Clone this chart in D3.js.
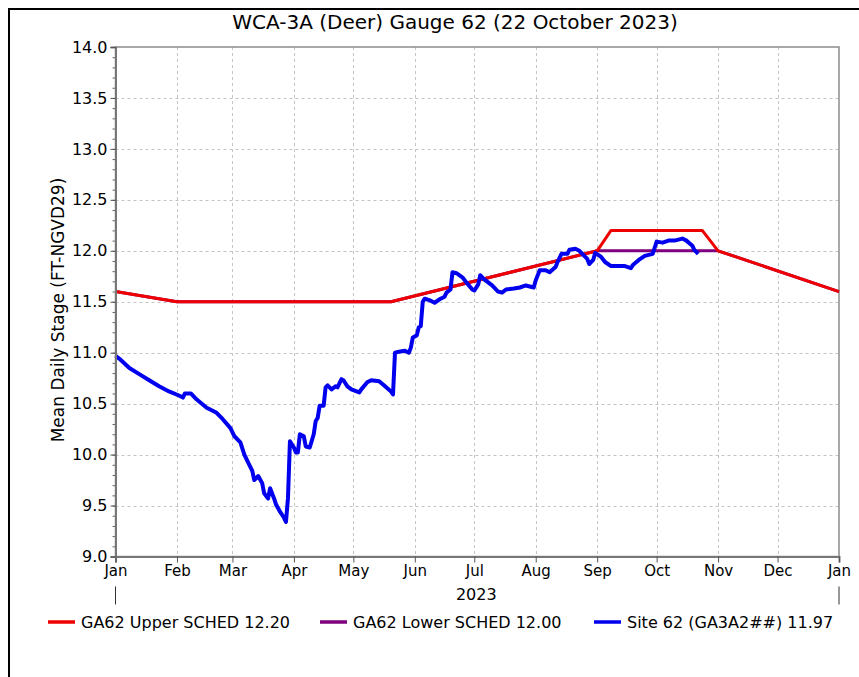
<!DOCTYPE html>
<html>
<head>
<meta charset="utf-8">
<script src="https://cdn.jsdelivr.net/npm/d3@7"></script>
<style>
  body { margin: 0; background: #fff; }
  text { font-family: "DejaVu Sans", sans-serif; fill: #000; }
</style>
</head>
<body>
<div id="chart"></div>
<script>
// Upper / lower regulation schedules (ft NGVD29)
var upperDates  = ["2023-01-01", "2023-02-01", "2023-05-20", "2023-09-01", "2023-09-08", "2023-10-24", "2023-11-01", "2024-01-01"];
var upperValues = [11.6, 11.5, 11.5, 12.0, 12.2, 12.2, 12.0, 11.6];

var lowerDates  = ["2023-01-01", "2023-02-01", "2023-05-20", "2023-09-01", "2023-11-01", "2024-01-01"];
var lowerValues = [11.6, 11.5, 11.5, 12.0, 12.0, 11.6];

// Site 62 mean daily stage
var siteDates = [
  "2023-01-01", "2023-01-03", "2023-01-08", "2023-01-13", "2023-01-18", "2023-01-23", "2023-01-28",
  "2023-02-02", "2023-02-04", "2023-02-05", "2023-02-08", "2023-02-11", "2023-02-16", "2023-02-21",
  "2023-02-24", "2023-02-28", "2023-03-02", "2023-03-05", "2023-03-07", "2023-03-09", "2023-03-11",
  "2023-03-12", "2023-03-14", "2023-03-16", "2023-03-17", "2023-03-19", "2023-03-20", "2023-03-22",
  "2023-03-23", "2023-03-25", "2023-03-27", "2023-03-28", "2023-03-29", "2023-03-30", "2023-04-01",
  "2023-04-02", "2023-04-03", "2023-04-04", "2023-04-06", "2023-04-07", "2023-04-09", "2023-04-11",
  "2023-04-12", "2023-04-13", "2023-04-14", "2023-04-16", "2023-04-17", "2023-04-18", "2023-04-20",
  "2023-04-22", "2023-04-23", "2023-04-25", "2023-04-26", "2023-04-28", "2023-04-30", "2023-05-04",
  "2023-05-05", "2023-05-08", "2023-05-10", "2023-05-14", "2023-05-17", "2023-05-20", "2023-05-21",
  "2023-05-22", "2023-05-24", "2023-05-27", "2023-05-29", "2023-05-30", "2023-05-31", "2023-06-02",
  "2023-06-03", "2023-06-04", "2023-06-05", "2023-06-06", "2023-06-09", "2023-06-11", "2023-06-14",
  "2023-06-16", "2023-06-17", "2023-06-19", "2023-06-20", "2023-06-22", "2023-06-25", "2023-06-27",
  "2023-06-30", "2023-07-01", "2023-07-03", "2023-07-04", "2023-07-06", "2023-07-10", "2023-07-13",
  "2023-07-15", "2023-07-17", "2023-07-21", "2023-07-24", "2023-07-27", "2023-07-29", "2023-07-31",
  "2023-08-01", "2023-08-03", "2023-08-06", "2023-08-08", "2023-08-11", "2023-08-12", "2023-08-14",
  "2023-08-17", "2023-08-18", "2023-08-21", "2023-08-23", "2023-08-25", "2023-08-27", "2023-08-28",
  "2023-08-30", "2023-08-31", "2023-09-03", "2023-09-05", "2023-09-08", "2023-09-10", "2023-09-13",
  "2023-09-15", "2023-09-18", "2023-09-19", "2023-09-22", "2023-09-25", "2023-09-29", "2023-09-30",
  "2023-10-01", "2023-10-04", "2023-10-07", "2023-10-10", "2023-10-14", "2023-10-16", "2023-10-19",
  "2023-10-20", "2023-10-22"
];
var siteValues = [
  10.97, 10.94, 10.85, 10.79, 10.73, 10.67, 10.62,
  10.58, 10.56, 10.60, 10.60, 10.54, 10.46, 10.41,
  10.35, 10.26, 10.18, 10.12, 10.00, 9.92, 9.84,
  9.75, 9.79, 9.72, 9.62, 9.57, 9.67, 9.57,
  9.51, 9.44, 9.38, 9.34, 9.57, 10.13, 10.07,
  10.02, 10.02, 10.20, 10.18, 10.08, 10.07, 10.20,
  10.33, 10.36, 10.48, 10.48, 10.66, 10.68, 10.64,
  10.67, 10.66, 10.74, 10.73, 10.67, 10.64, 10.61,
  10.64, 10.71, 10.73, 10.72, 10.67, 10.62, 10.59,
  11.00, 11.01, 11.02, 11.00, 11.05, 11.15, 11.17,
  11.25, 11.26, 11.50, 11.53, 11.51, 11.49, 11.53,
  11.55, 11.59, 11.62, 11.79, 11.78, 11.74, 11.69,
  11.62, 11.61, 11.67, 11.76, 11.72, 11.66, 11.60,
  11.59, 11.62, 11.63, 11.64, 11.66, 11.65, 11.64,
  11.71, 11.81, 11.81, 11.79, 11.84, 11.89, 11.97,
  11.97, 12.01, 12.02, 12.00, 11.96, 11.92, 11.87,
  11.91, 11.98, 11.94, 11.89, 11.85, 11.85, 11.85,
  11.85, 11.83, 11.86, 11.91, 11.95, 11.97, 12.03,
  12.09, 12.08, 12.10, 12.10, 12.12, 12.10, 12.05,
  12.01, 11.97
];

var yTicks = [9.0, 9.5, 10.0, 10.5, 11.0, 11.5, 12.0, 12.5, 13.0, 13.5, 14.0];
var legendNames = ["GA62 Upper SCHED 12.20", "GA62 Lower SCHED 12.00", "Site 62 (GA3A2##) 11.97"];
var colours = ["#ee0000", "#7f007f", "#0000ee"];

var width = 859, height = 677;
var margins = { top: 47, right: 20, bottom: 121, left: 115.5 };

var parseDate = d3.timeParse("%Y-%m-%d");

function toSeries(dates, values) {
  return dates.map(function (d, i) { return { x: parseDate(d), y: values[i] }; });
}

var series = [
  toSeries(upperDates, upperValues),
  toSeries(lowerDates, lowerValues),
  toSeries(siteDates, siteValues)
];

var svg = d3.select("#chart").append("svg")
  .attr("width", width)
  .attr("height", height);

// outer frame
svg.append("path")
  .attr("d", "M9,677 L9,9 L859,9")
  .attr("fill", "none")
  .attr("stroke", "#000")
  .attr("stroke-width", 2);

var scaleX = d3.scaleTime()
  .domain([parseDate("2023-01-01"), parseDate("2024-01-01")])
  .range([margins.left, width - margins.right]);

var scaleY = d3.scaleLinear()
  .domain([9, 14])
  .range([height - margins.bottom + 0.5, margins.top]);

var x0 = scaleX.range()[0], x1 = scaleX.range()[1];
var y0 = scaleY.range()[0], y1 = scaleY.range()[1];

// grid
var months = d3.timeMonth.range(parseDate("2023-01-01"), parseDate("2024-01-02"));
svg.append("g").attr("class", "grid")
  .selectAll("line.v").data(months.slice(1, -1)).enter()
  .append("line")
    .attr("x1", function (d) { return Math.round(scaleX(d)) + 0.5; })
    .attr("x2", function (d) { return Math.round(scaleX(d)) + 0.5; })
    .attr("y1", y1).attr("y2", y0)
    .attr("stroke", "#c4c4c4")
    .attr("stroke-dasharray", "3,3");

svg.append("g").attr("class", "grid")
  .selectAll("line.h").data(yTicks.slice(1, -1)).enter()
  .append("line")
    .attr("x1", x0).attr("x2", x1)
    .attr("y1", function (d) { return Math.round(scaleY(d)) + 0.5; })
    .attr("y2", function (d) { return Math.round(scaleY(d)) + 0.5; })
    .attr("stroke", "#c4c4c4")
    .attr("stroke-dasharray", "3,3");

// plot border
svg.append("rect")
  .attr("x", x0).attr("y", y1)
  .attr("width", x1 - x0).attr("height", y0 - y1)
  .attr("fill", "none")
  .attr("stroke", "#8c8c8c")
  .attr("stroke-width", 1.5);

// lines
var line = d3.line()
  .x(function (d) { return scaleX(d.x); })
  .y(function (d) { return scaleY(d.y); });

var drawOrder = [1, 0, 2];
var widths = [3, 3, 4];
drawOrder.forEach(function (i) {
  svg.append("path")
    .datum(series[i])
    .attr("class", "line")
    .attr("d", line)
    .attr("fill", "none")
    .attr("stroke", colours[i])
    .attr("stroke-width", widths[i])
    .attr("stroke-linejoin", "round");
});

// y axis (minor + major)
var minorY = d3.range(90, 141).map(function (v) { return v / 10; });
svg.append("g")
  .attr("transform", "translate(" + x0 + ",0)")
  .call(d3.axisLeft(scaleY).tickValues(minorY).tickSize(3).tickFormat(""))
  .call(function (g) { g.select(".domain").remove(); g.selectAll("line").attr("stroke", "#666"); });

svg.append("g")
  .attr("class", "y-axis")
  .attr("transform", "translate(" + x0 + ",0)")
  .call(d3.axisLeft(scaleY).tickValues(yTicks).tickSize(5).tickPadding(3).tickFormat(d3.format(".1f")))
  .call(function (g) {
    g.select(".domain").attr("stroke", "#777").attr("stroke-width", 2);
    g.selectAll("line").attr("stroke", "#555");
    g.selectAll("text").attr("font-size", 16).attr("fill", "#000");
  });

// x axis
svg.append("g")
  .attr("class", "x-axis")
  .attr("transform", "translate(0," + y0 + ")")
  .call(d3.axisBottom(scaleX).tickValues(months).tickSize(6).tickPadding(3).tickFormat(d3.timeFormat("%b")))
  .call(function (g) {
    g.select(".domain").attr("stroke", "#777").attr("stroke-width", 2);
    g.selectAll("line").attr("stroke", "#555");
    g.selectAll("text").attr("font-size", 15).attr("fill", "#000");
  });

// year separators
[parseDate("2023-01-01"), parseDate("2024-01-01")].forEach(function (d) {
  svg.append("line")
    .attr("x1", scaleX(d)).attr("x2", scaleX(d))
    .attr("y1", y0 + 30).attr("y2", y0 + 48)
    .attr("stroke", "#333");
});

svg.append("text")
  .attr("x", scaleX(parseDate("2023-07-02")))
  .attr("y", y0 + 43)
  .attr("text-anchor", "middle")
  .attr("font-size", 16)
  .text("2023");

// title and axis label
svg.append("text")
  .attr("x", 455).attr("y", 29)
  .attr("text-anchor", "middle")
  .attr("font-size", 20)
  .text("WCA-3A (Deer) Gauge 62 (22 October 2023)");

svg.append("text")
  .attr("transform", "translate(64,310) rotate(-90)")
  .attr("text-anchor", "middle")
  .attr("font-size", 17)
  .text("Mean Daily Stage (FT-NGVD29)");

// legend
var legendX = [48, 320, 594];
var legend = svg.append("g").attr("class", "legend")
  .selectAll("g").data(legendNames).enter()
  .append("g")
    .attr("transform", function (d, i) { return "translate(" + legendX[i] + ",622)"; });

legend.append("line")
  .attr("x1", 0).attr("x2", 27)
  .attr("y1", 0).attr("y2", 0)
  .attr("stroke", function (d, i) { return colours[i]; })
  .attr("stroke-width", 3.5);

legend.append("text")
  .attr("x", 33).attr("y", 6)
  .attr("font-size", 16)
  .text(function (d) { return d; });
</script>
</body>
</html>
